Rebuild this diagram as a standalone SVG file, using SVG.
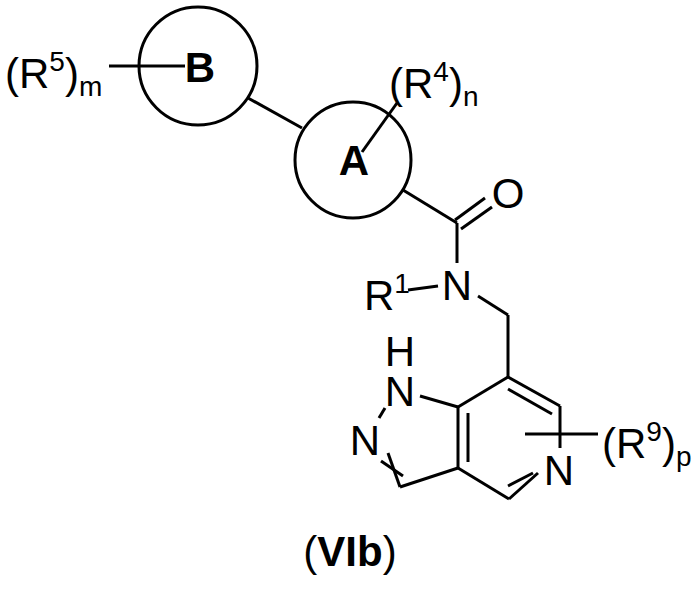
<svg xmlns="http://www.w3.org/2000/svg" width="699" height="589" viewBox="0 0 699 589">
<style>
line,circle{stroke:#000;stroke-width:3;fill:none}
text{font-family:"Liberation Sans",Arial,sans-serif;font-size:42px;fill:#000}
.m{text-anchor:middle}
.b{font-weight:bold}
.s{font-size:28px}
</style>
<rect width="699" height="589" fill="#fff"/>
<g id="ringB"><circle cx="198" cy="66" r="59"/><text class="m b" x="200" y="82">B</text></g>
<g id="ringA"><circle cx="353" cy="160" r="58"/><text class="m b" x="354" y="175">A</text></g>
<g id="R5"><text x="5" y="88">(R<tspan class="s" dy="-17">5</tspan><tspan dy="17">)</tspan><tspan class="s" dy="8">m</tspan></text></g>
<g id="R4"><text x="389" y="98">(R<tspan class="s" dy="-17">4</tspan><tspan dy="17">)</tspan><tspan class="s" dy="8">n</tspan></text></g>
<g id="O"><text class="m" x="508" y="208">O</text></g>
<g id="N"><text class="m" x="457" y="300">N</text></g>
<g id="R1"><text x="364" y="310">R<tspan class="s" dy="-17">1</tspan></text></g>
<g id="NH"><text class="m" x="400" y="366">H</text><text class="m" x="400" y="406">N</text></g>
<g id="N2"><text class="m" x="365" y="455">N</text></g>
<g id="N5"><text class="m" x="559" y="485">N</text></g>
<g id="R9"><text x="602" y="458">(R<tspan class="s" dy="-17">9</tspan><tspan dy="17">)</tspan><tspan class="s" dy="8">p</tspan></text></g>
<g id="label"><text class="m" x="350" y="566">(<tspan class="b">VIb</tspan>)</text></g>
<g id="bonds">
<line x1="109" y1="66" x2="185" y2="66"/>
<line x1="248" y1="98" x2="302" y2="128"/>
<line x1="397" y1="103" x2="362" y2="152"/>
<line x1="403" y1="190" x2="457" y2="223"/>
<line x1="455" y1="220" x2="485" y2="198"/>
<line x1="461" y1="229" x2="492" y2="207"/>
<line x1="457" y1="223" x2="457" y2="263"/>
<line x1="408" y1="290" x2="438" y2="286"/>
<line x1="478" y1="296" x2="508" y2="315"/>
<line x1="508" y1="315" x2="508" y2="377"/>
<line x1="508" y1="377" x2="560" y2="406"/>
<line x1="508" y1="389" x2="552" y2="414"/>
<line x1="560" y1="406" x2="560" y2="448"/>
<line x1="538" y1="473" x2="509" y2="499"/>
<line x1="533" y1="473" x2="508" y2="486"/>
<line x1="509" y1="499" x2="458" y2="468"/>
<line x1="458" y1="468" x2="458" y2="407"/>
<line x1="468" y1="413" x2="468" y2="462"/>
<line x1="458" y1="407" x2="508" y2="377"/>
<line x1="458" y1="407" x2="420" y2="396"/>
<line x1="379" y1="418" x2="385" y2="408"/>
<line x1="388" y1="453" x2="400" y2="487"/>
<line x1="381" y1="461" x2="403" y2="476"/>
<line x1="400" y1="487" x2="458" y2="468"/>
<line x1="525" y1="434" x2="598" y2="434"/>
</g>
</svg>
